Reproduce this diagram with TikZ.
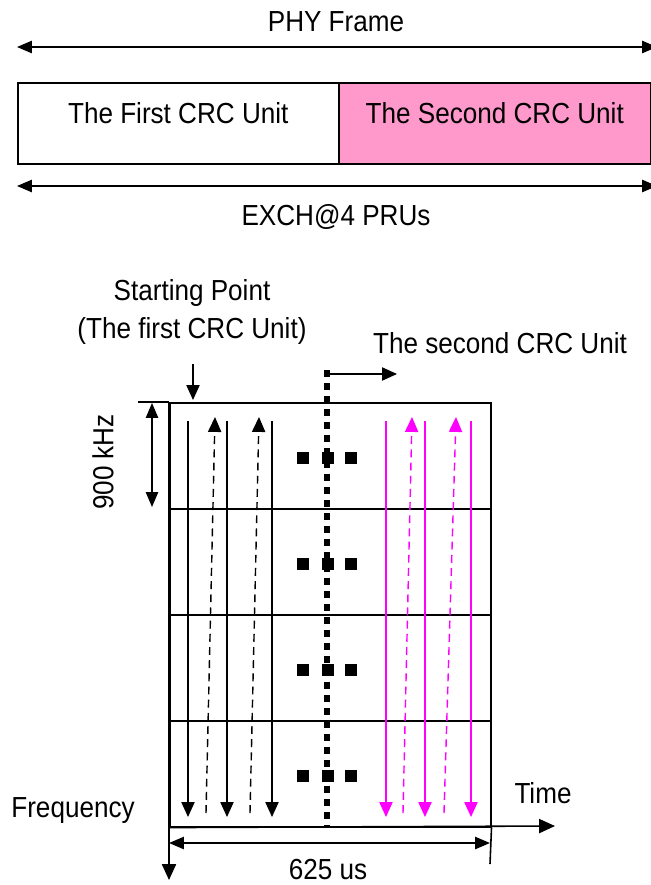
\documentclass[tikz,border=0pt]{standalone}
\usepackage{fontspec}
\setmainfont{Liberation Sans}[FakeStretch=0.9]
\usetikzlibrary{arrows.meta, positioning, calc}
\definecolor{crcpink}{HTML}{FF99CC}
\definecolor{crcmag}{RGB}{255,0,255}

\begin{document}
\begin{tikzpicture}[
  x=0.02cm, y=-0.02cm,
  lbl/.style={
    font=\fontsize{16.5}{22}\selectfont,
    inner sep=0pt, align=center
  },
  unitbox/.style={
    draw=black, line width=0.9pt,
    minimum height=1.62cm, inner sep=0pt, anchor=north west
  },
  rowbox/.style={
    draw=black, line width=0.9pt,
    minimum width=6.42cm, minimum height=2.12cm,
    inner sep=0pt, anchor=north west
  },
  sq/.style={fill=black, minimum size=0.24cm, inner sep=0pt},
  dim/.style={{Triangle[length=8.5pt,width=7pt]}-{Triangle[length=8.5pt,width=7pt]}, line width=0.9pt},
  arr/.style={-{Triangle[length=8.5pt,width=7.5pt]}, line width=0.8pt},
  axis/.style={-{Triangle[length=9pt,width=8pt]}, line width=0.9pt},
  darr/.style={arr, dash pattern=on 4.5pt off 3pt},
  sep/.style={line width=3.4pt, dash pattern=on 4pt off 3.4pt}
]
\useasboundingbox (0,0) rectangle (651,885);

%% PHY frame
\node[lbl] (phy) at (336,22) {PHY Frame};
\coordinate (phyL) at (17,47);
\coordinate (phyR) at (657,47);
\draw[dim] (phyL) -- (phyR);

\node[unitbox, minimum width=6.42cm] (first) at (17,82) {};
\node[unitbox, minimum width=6.24cm, fill=crcpink] (second) at (338,82) {};
\node[lbl] at ([yshift=0.2cm]first.center) (firstlbl) {The First CRC Unit};
\node[lbl] at ([yshift=0.2cm]second.center) (secondlbl) {The Second CRC Unit};

\coordinate (exchL) at (17,186);
\coordinate (exchR) at (657,186);
\draw[dim] (exchL) -- (exchR);
\node[lbl] (exch) at (336,217) {EXCH@4 PRUs};

%% time-frequency grid
\foreach \i/\y in {1/402,2/508,3/614,4/720}
  \node[rowbox] (row\i) at (169,\y) {};

\foreach \i in {1,...,4} {
  \node[sq] (sqa\i) at ($(row\i.center)+(-27,2)$) {};
  \node[sq] (sqb\i) at ($(row\i.center)+(-2,2)$) {};
  \node[sq] (sqc\i) at ($(row\i.center)+(21,2)$) {};
}

%% first CRC unit (black)
\foreach \x in {188,227,272}
  \draw[arr] (\x,421) -- (\x,817);
\foreach \x in {206,250}
  \draw[darr] (\x,813) -- (\x+9,417);

%% second CRC unit (magenta)
\foreach \x in {386,425,471}
  \draw[arr, crcmag] (\x,421) -- (\x,817);
\foreach \x/\d in {403/9,444/12}
  \draw[darr, crcmag] (\x,813) -- (\x+\d,417);

%% unit boundary
\coordinate (sepT) at (327,370);
\coordinate (sepB) at (327,828);
\draw[sep] (sepT) -- (sepB);
\coordinate (nextR) at (397,374);
\draw[arr] (sepT |- nextR) ++(3,0) -- (nextR);
\node[lbl] (second2) at (500,343) {The second CRC Unit};

%% starting point
\node[lbl] (start) at (192,312) {Starting Point\\(The first CRC Unit)};
\draw[arr] (193,364) -- (193,400);

%% axes
\draw[line width=0.9pt] (138,402) -- (row1.north west);
\draw[axis] (row1.north west) -- (169,880);
\draw[axis] (row4.south west) -- (555,826);
\draw[line width=0.9pt] (row4.south east) -- (490,864);
\node[lbl] (freq) at (73,811) {Frequency};
\node[lbl] (time) at (543,793) {Time};

%% dimensions
\draw[dim] (152,403) -- (152,507);
\node[lbl, rotate=90] (khz) at (103,462) {900 kHz};
\draw[dim] (169,843) -- (490,843);
\node[lbl] (us) at (328,870) {625 us};

\end{tikzpicture}
\end{document}
